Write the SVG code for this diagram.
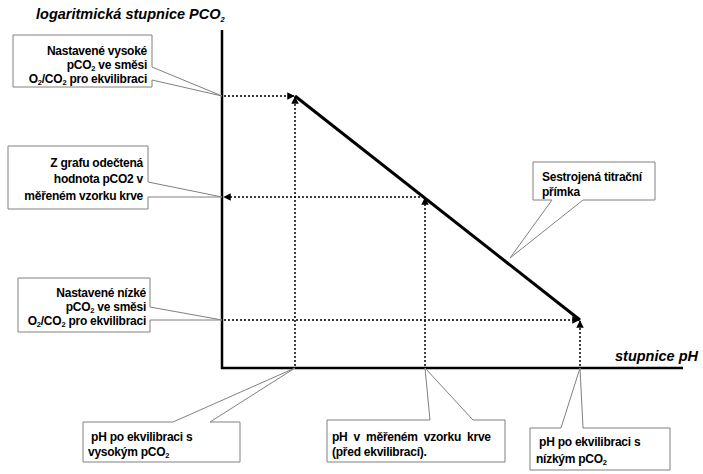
<svg xmlns="http://www.w3.org/2000/svg" width="703" height="474" viewBox="0 0 703 474">
<style>
.t{font-family:"Liberation Sans",Arial,sans-serif;font-size:12px;font-weight:bold;letter-spacing:-0.25px;fill:#000}
.ax{font-family:"Liberation Sans",Arial,sans-serif;font-size:14.5px;font-weight:bold;font-style:italic;letter-spacing:0px;fill:#000}
.co{fill:#fff;stroke:#808080;stroke-width:1}
.axis{stroke:#000;stroke-width:2.5;fill:none}
.dot{stroke:#000;stroke-width:1.5;stroke-dasharray:2 2;fill:none;marker-end:url(#ah)}
.sub{font-size:7.5px}
</style>
<defs>
<marker id="ah" viewBox="0 0 10 10" refX="9" refY="5" markerWidth="5" markerHeight="5" orient="auto" markerUnits="strokeWidth">
<path d="M0,0 L10,5 L0,10 Z" fill="#000"/>
</marker>
</defs>
<rect width="703" height="474" fill="#fff"/>
<text class="ax" x="36" y="19">logaritmická stupnice PCO<tspan class="sub" dy="3">2</tspan></text>
<text class="ax" x="615" y="361">stupnice pH</text>
<g id="connectors">
<line class="axis" x1="222" y1="30" x2="222" y2="369"/>
<line class="axis" x1="221" y1="368" x2="683" y2="368"/>
<line x1="295" y1="96" x2="580" y2="320" stroke="#000" stroke-width="3"/>
<line class="dot" x1="224" y1="96" x2="294" y2="96"/>
<line class="dot" x1="295" y1="366" x2="295" y2="97"/>
<line class="dot" x1="424" y1="197" x2="224" y2="197"/>
<line class="dot" x1="425" y1="366" x2="425" y2="198"/>
<line class="dot" x1="224" y1="320" x2="579" y2="320"/>
<line class="dot" x1="580" y1="366" x2="580" y2="321"/>
</g>
<g id="callout-high">
<path class="co" d="M13,35 H152 V67 L222,96 L152,80 V87 H13 Z"/>
<text class="t" text-anchor="end" x="147" y="55">Nastavené vysoké</text>
<text class="t" text-anchor="end" x="147" y="69">pCO<tspan class="sub" dy="2">2</tspan><tspan dy="-2"> ve směsi</tspan></text>
<text class="t" text-anchor="end" x="147" y="83">O<tspan class="sub" dy="2">2</tspan><tspan dy="-2">/CO</tspan><tspan class="sub" dy="2">2</tspan><tspan dy="-2"> pro ekvilibraci</tspan></text>
</g>
<g id="callout-read">
<path class="co" d="M8,146 H148 V182 L222,197 L148,197 V209 H8 Z"/>
<text class="t" text-anchor="end" x="143" y="167">Z grafu odečtená</text>
<text class="t" text-anchor="end" x="143" y="183">hodnota pCO2 v</text>
<text class="t" text-anchor="end" x="143" y="200">měřeném vzorku krve</text>
</g>
<g id="callout-low">
<path class="co" d="M18,278 H150 V307 L222,320 L150,320 V332 H18 Z"/>
<text class="t" text-anchor="end" x="146" y="297">Nastavené nízké</text>
<text class="t" text-anchor="end" x="146" y="311">pCO<tspan class="sub" dy="2">2</tspan><tspan dy="-2"> ve směsi</tspan></text>
<text class="t" text-anchor="end" x="146" y="325">O<tspan class="sub" dy="2">2</tspan><tspan dy="-2">/CO</tspan><tspan class="sub" dy="2">2</tspan><tspan dy="-2"> pro ekvilibraci</tspan></text>
</g>
<g id="callout-line">
<path class="co" d="M533,162 H655 V200 H583 L510,258 L552,200 H533 Z"/>
<text class="t" x="542" y="181">Sestrojená titrační</text>
<text class="t" x="542" y="196">přímka</text>
</g>
<g id="callout-ph-high">
<path class="co" d="M83,422 H173 L295,368 L210,422 H240 V462 H83 Z"/>
<text class="t" x="88" y="441" xml:space="preserve"> pH po ekvilibraci s</text>
<text class="t" x="88" y="456">vysokým pCO<tspan class="sub" dy="2">2</tspan></text>
</g>
<g id="callout-ph-sample">
<path class="co" d="M327,420 H430 L425,368 L473,420 H505 V462 H327 Z"/>
<text class="t" x="332" y="441" word-spacing="3">pH v měřeném vzorku krve</text>
<text class="t" x="332" y="456">(před ekvilibrací).</text>
</g>
<g id="callout-ph-low">
<path class="co" d="M530,428 H561 L580,368 L583,428 H670 V470 H530 Z"/>
<text class="t" x="536" y="446" xml:space="preserve"> pH po ekvilibraci s</text>
<text class="t" x="536" y="463">nízkým pCO<tspan class="sub" dy="2">2</tspan></text>
</g>
</svg>
